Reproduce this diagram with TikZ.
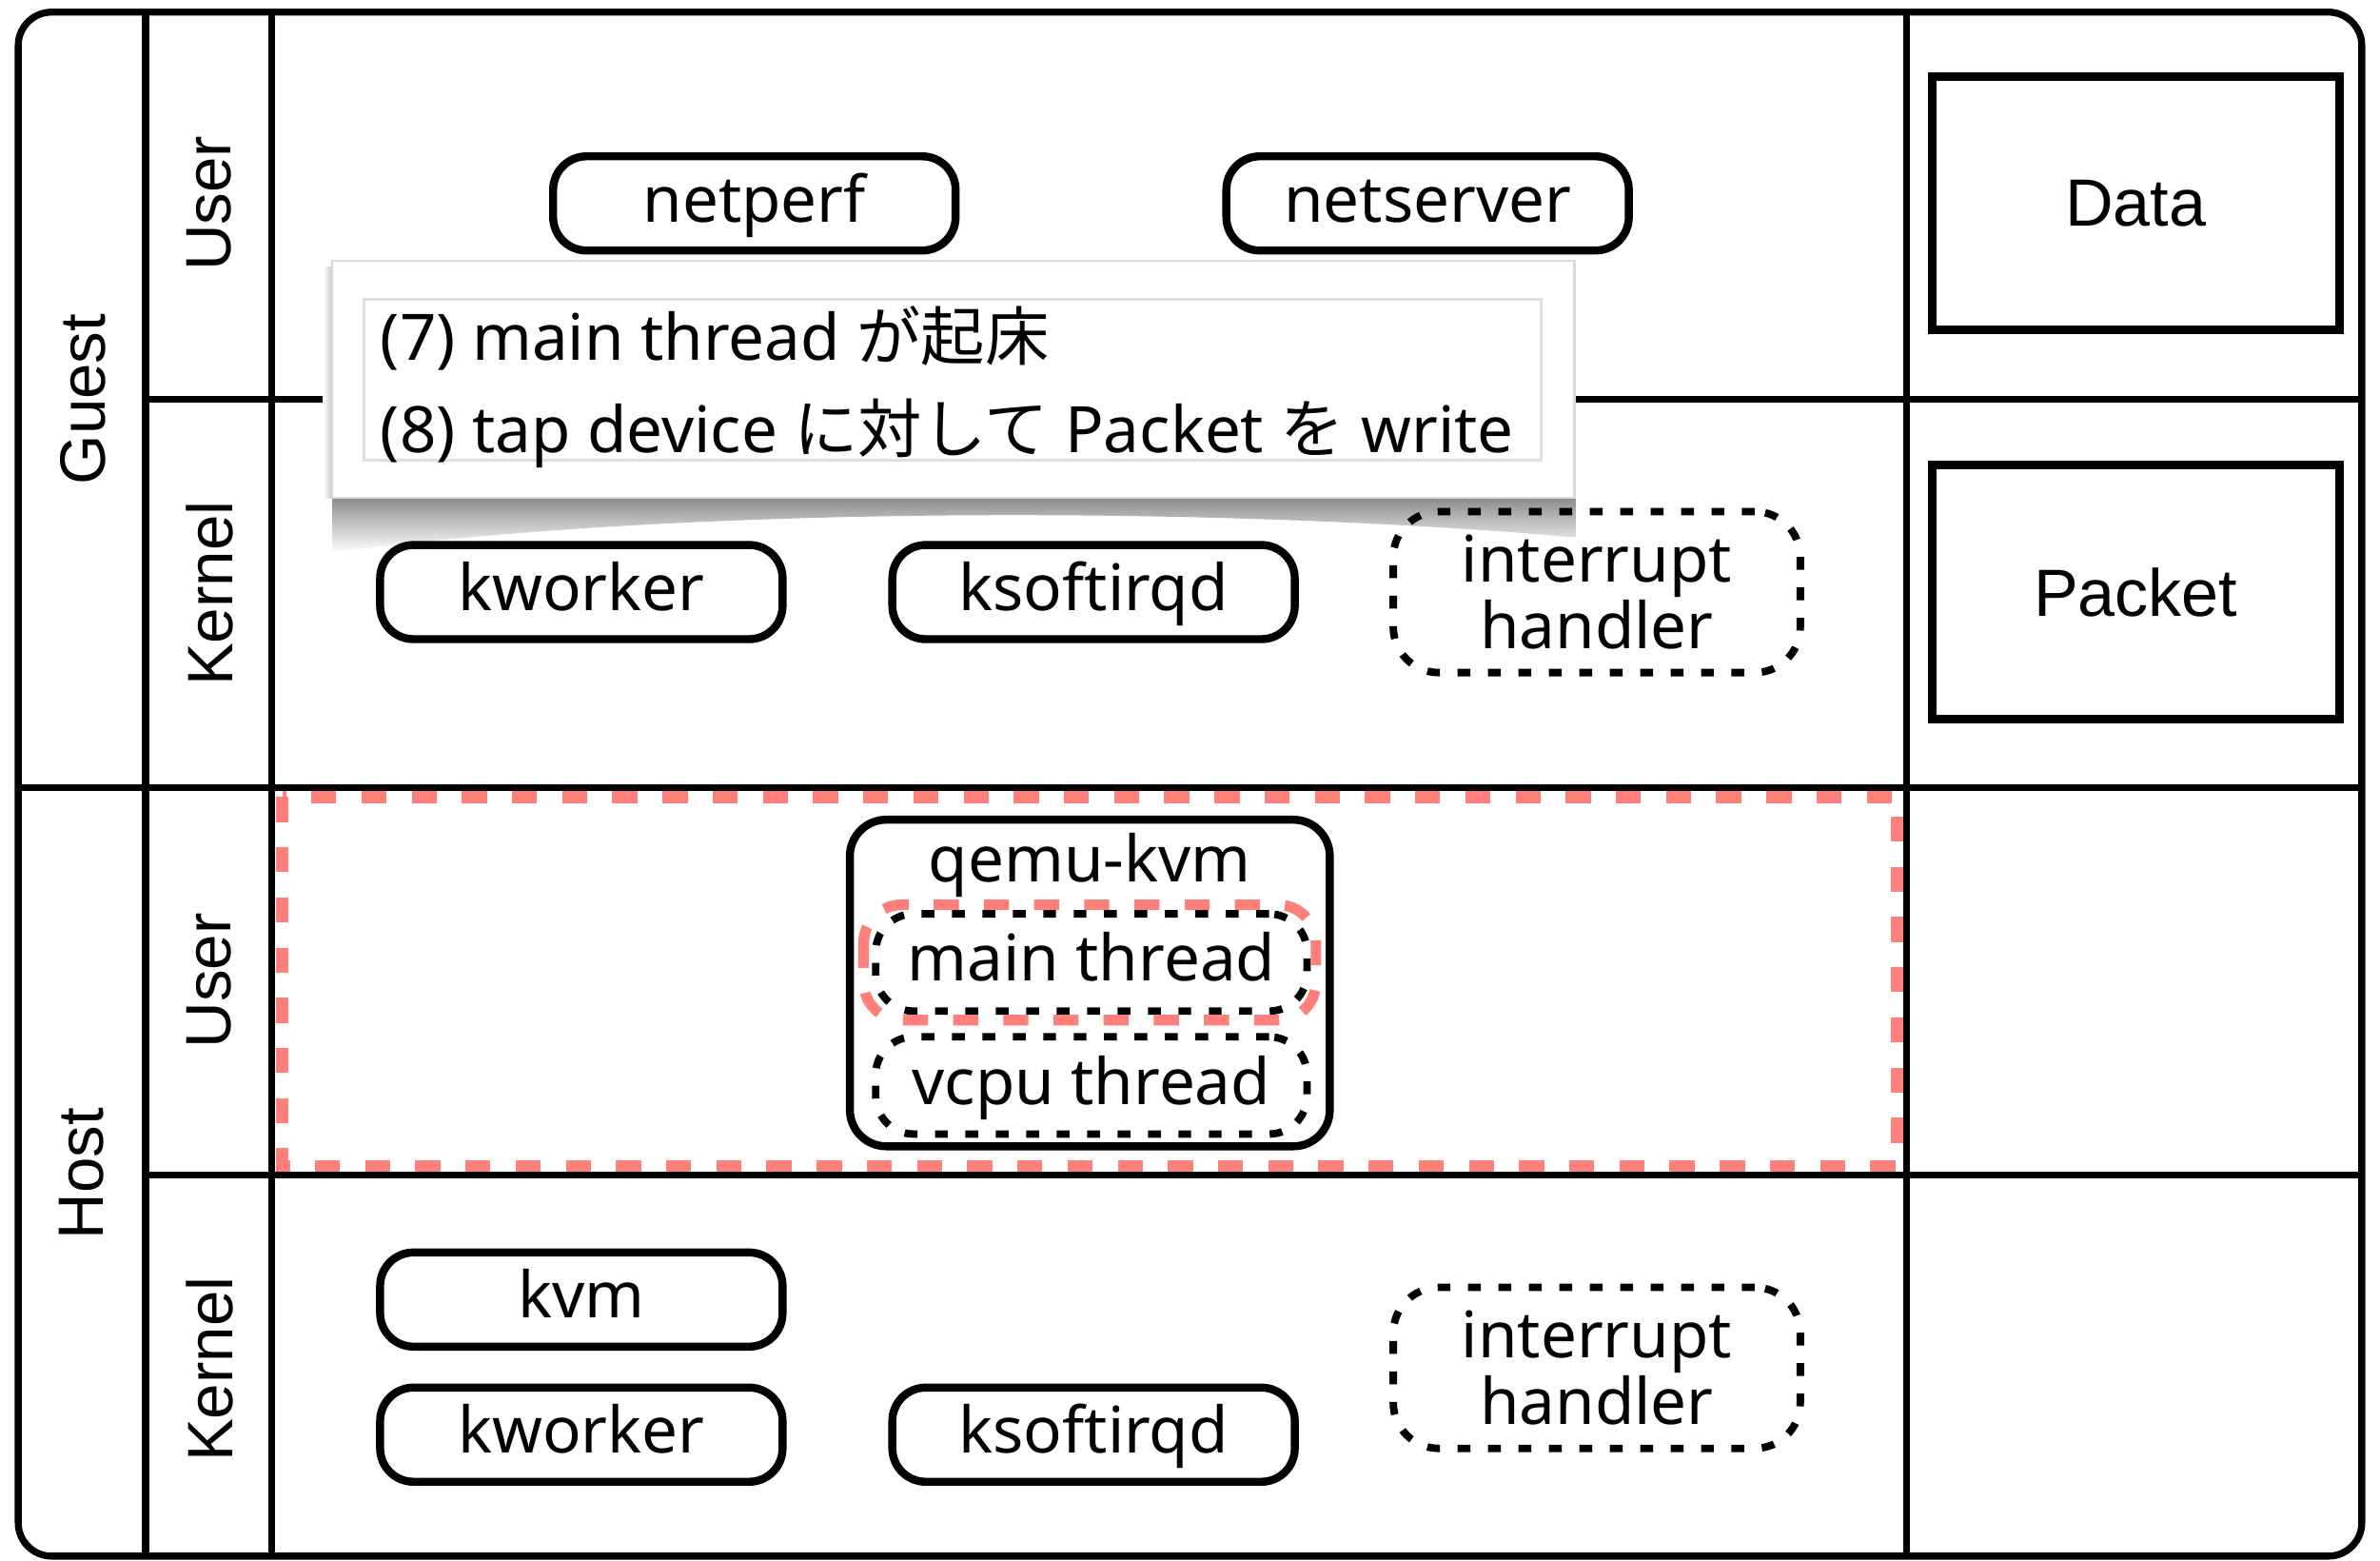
\documentclass[tikz,border=0pt]{standalone}
\usepackage{fontspec}
\setmainfont{Noto Sans}
\newfontfamily\lblfont{Liberation Sans}
\newfontfamily\jpfont{Noto Sans CJK JP}
\usetikzlibrary{positioning}
\definecolor{hostred}{RGB}{255,128,122}

\begin{document}
\begin{tikzpicture}[x=0.01cm,y=-0.01cm,
  every node/.style={inner sep=0pt,font=\fontsize{12}{12.5}\selectfont},
  grid/.style={line width=1.3pt},
  proc/.style={draw,line width=1.5pt,rounded corners=0.22cm,minimum width=2.65cm,minimum height=0.62cm,text height=10pt,text depth=3pt},
  thr/.style={draw,line width=1.4pt,dash pattern=on 2.4pt off 3.3pt,rounded corners=0.25cm,minimum width=2.84cm,minimum height=0.64cm,text height=10pt,text depth=3pt},
  intr/.style={draw,line width=1.4pt,dash pattern=on 2.4pt off 3.3pt,rounded corners=0.3cm,minimum width=2.68cm,minimum height=1.06cm,align=center},
  databox/.style={draw,line width=1.6pt,minimum width=2.68cm,minimum height=1.67cm,font=\lblfont\fontsize{12.5}{15}\selectfont},
  layer/.style={rotate=90,font=\lblfont\fontsize{12}{14}\selectfont},
  redbox/.style={draw=hostred,line width=2.3pt,dash pattern=on 4.7pt off 4.7pt}]

  \useasboundingbox (0,0) rectangle (1568,1028);
  \draw[grid,rounded corners=0.22cm] (12,8) rectangle (1556,1025);
  \draw[grid] (96,8) -- (96,1025) (179,8) -- (179,1025) (1256,8) -- (1256,1025);
  \draw[grid] (12,519) -- (1556,519) (96,263) -- (1556,263) (96,774) -- (1556,774);

  \node (guest) at (55,263) [layer] {Guest};
  \node (host) at (54,773) [layer] {Host};
  \node (guser) at (138,134) [layer] {User};
  \node (gkernel) at (138,391) [layer] {Kernel};
  \node (huser) at (138,646) [layer] {User};
  \node (hkernel) at (138,902) [layer] {Kernel};

  \draw[redbox] (186,525) rectangle (1250,768);

  % callout with its shadow
  \shade[top color=gray!90,bottom color=white] (219,328) -- (1038,328) -- (1038,354) .. controls (800,333) and (450,333) .. (219,364) -- cycle;
  \shade[left color=white,right color=gray!45] (213,176) rectangle (219,328);
  \node (note) at (628,250) [fill=white,draw=gray!30,line width=0.4pt,minimum width=8.18cm,minimum height=1.56cm] {};
  \node (notebox) at (627.5,250) [draw=gray!25,line width=0.5pt,minimum width=7.75cm,minimum height=1.06cm] {};
  \node (step7) at (250,237) [anchor=base west] {(7) main thread {\jpfont が起床}};
  \node (step8) at (250,298) [anchor=base west] {(8) tap device {\jpfont に対して} Packet {\jpfont を} write};

  \node (netperf) at (497,134) [proc] {netperf};
  \node[proc,right=1.73cm of netperf] (netserver) {netserver};
  \node (gkworker) at (383,390) [proc] {kworker};
  \node[proc,right=0.67cm of gkworker] (gksoftirqd) {ksoftirqd};
  \node (gintr) at (1052,390) [intr] {interrupt\\handler};

  \node (data) at (1407,134) [databox] {Data};
  \node (packet) at (1407,390) [databox] {Packet};

  \node (qemu) at (718,647.5) [draw,line width=1.5pt,rounded corners=0.24cm,minimum width=3.16cm,minimum height=2.15cm] {};
  \node (qemulbl) at (718,570) {qemu-kvm};
  \node (mainthr) at (719,634) [thr] {main thread};
  \node[thr,below=0.12cm of mainthr] (vcputhr) {vcpu thread};
  \draw[redbox,line width=2pt,rounded corners=0.25cm] (569,596) rectangle (867,672);

  \node (kvm) at (383,856) [proc] {kvm};
  \node (hkworker) at (383,945) [proc] {kworker};
  \node[proc,right=0.67cm of hkworker] (hksoftirqd) {ksoftirqd};
  \node (hintr) at (1052,901) [intr] {interrupt\\handler};
\end{tikzpicture}
\end{document}
